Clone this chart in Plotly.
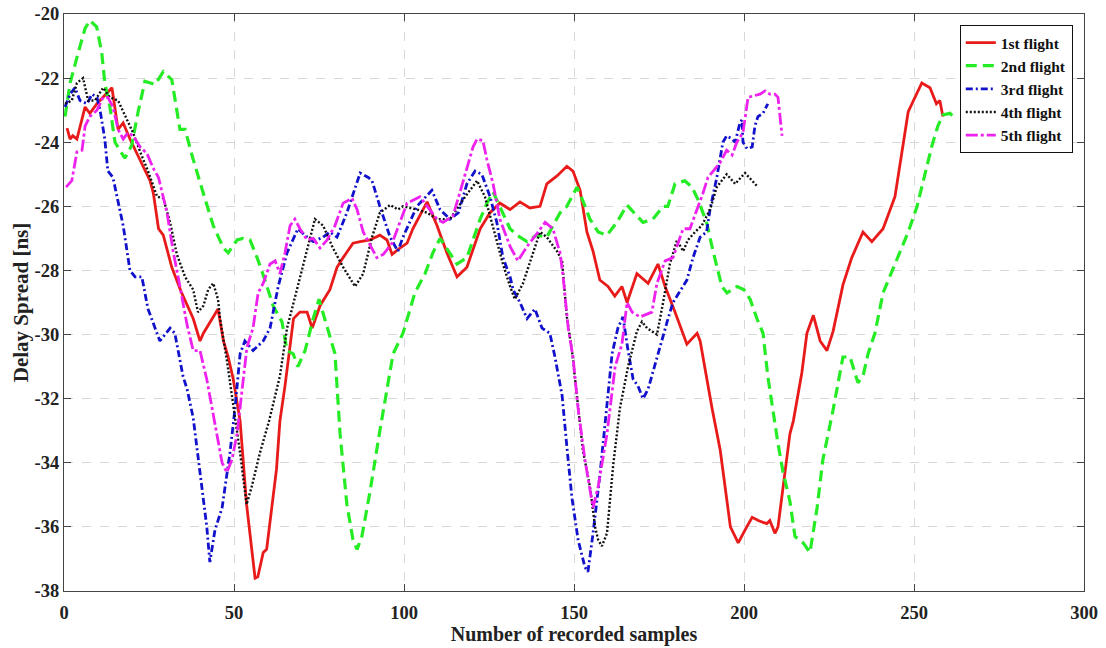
import plotly.graph_objects as go

# ---------------- data ----------------
red_x = [0.9, 1.8, 2.6, 3.8, 6.2, 7.6, 9.7, 11.5, 13.5, 14.1, 15.9, 17.4, 19.4, 22.4, 25.3, 26.3, 27.8, 29.2,
         31.7, 34.6, 38, 40, 41, 45.3, 46.9, 48.3, 49.8, 51.8, 53.7, 56.2, 57, 58.6, 59.6, 62.5, 63.5, 65, 67.5,
         69.4, 71.5, 73, 75.3, 78.2, 80.3, 82.1, 85, 87.1, 90, 92.9, 95, 96.5, 98.8, 100.9, 102.6, 106.8, 109.7,
         112.6, 115.6, 118.5, 122.4, 125.3, 128.2, 131.2, 134.1, 137, 140, 142, 145, 147.9, 149.7,
         151.8, 153.8, 155.6, 157.6, 160, 162, 164.1, 165.6, 168.5, 171.8, 174.7, 176.8, 179.7, 183.2, 186.2,
         187.1, 190.6, 193, 196, 198.3, 200.8, 202.4, 204.2, 206.7, 207.6, 209.1, 210, 211.5, 213.5, 214.5, 217,
         218.5, 220.4, 222.4, 224.4, 226.2, 229.1, 231.7, 235, 237.6, 240.9, 244.4, 246.8, 248.3, 252.3, 254.7,
         256.6, 257.6, 258.5]
red_y = [-23.56, -23.9, -23.8, -23.9, -22.9, -23.1, -22.8, -22.6, -22.4, -22.3, -23.6, -23.4, -23.9, -24.55,
         -25.2, -25.6, -26.7, -26.9, -27.9, -28.7, -29.5, -30.2, -29.96, -29.2, -30.2, -30.7, -31.4, -32.7, -35.3,
         -37.6, -37.56, -36.8, -36.7, -34.2, -32.7, -31.6, -29.5, -29.3, -29.3, -29.8, -29.1, -28.6, -27.9, -27.6,
         -27.15, -27.1, -27.05, -26.9, -27.05, -27.5, -27.3, -27.15, -26.7, -25.86, -26.6, -27.45, -28.2, -27.9,
         -26.7, -26.2, -25.9, -26.1, -25.86, -26.05, -26.0, -25.3, -25.05, -24.75, -24.9, -25.5, -26.8,
         -27.4, -28.3, -28.5, -28.8, -28.5, -29.0, -28.1, -28.4, -27.8, -28.5, -29.3, -30.3, -29.96, -30.2, -32.3,
         -33.6, -36.0, -36.5, -36.0, -35.7, -35.8, -35.9, -35.8, -36.2, -36.0, -34.8, -33.1, -32.7, -31.2, -29.96,
         -29.4, -30.2, -30.5, -29.9, -28.45, -27.6, -26.8, -27.1, -26.7, -25.7, -24.0, -23.05, -22.15, -22.3,
         -22.8, -22.7, -23.2]

green_x = [0.3, 1.8, 4.2, 6.2, 7.6, 9.6, 11.1, 12, 13.5, 15, 17.9, 19.9, 21.8, 23.8, 26.8, 29.2, 31.7, 34.1,
           35.6, 37.9, 41, 43.9, 46.9, 48.3, 50.9, 52.6, 54.7, 56.8, 59.1, 61.5, 64.1, 65.6, 67.4, 68.8, 70.9, 73.3,
           75, 77.5, 79.7, 81.2, 83.2, 85, 86.2, 87.6, 90, 92.9, 95.3, 96.8, 99.7, 103.2, 106.2, 108.5, 110.6,
           113, 115.6, 118.5, 122.4, 124.4, 126.2, 131.2, 133.2, 136.2, 139, 142, 145.9, 147.9, 150.9, 152.5,
           154.7, 157.1, 159.7, 162.6, 165.6, 168.5, 170.3, 173.2, 176.2, 177.6, 179.7, 182.6, 184.7, 186.5, 189,
           190.9, 193.5, 195, 198, 200, 201.8, 203.8, 205.6, 207, 208.5, 210, 211.5, 213.5, 215, 217.4, 219.4,
           221.5, 223.2, 226.2, 229.1, 231.2, 233.5, 235, 236.5, 238.5, 240.9, 244.4, 248.3, 250.9, 252.3, 255.3,
           257, 258.5, 260.6, 262]
green_y = [-23.2, -22.15, -21.2, -20.45, -20.2, -20.4, -21.2, -22.15, -22.9, -24.0, -24.5, -24.1, -23.05, -22.1,
           -22.2, -21.8, -22.05, -23.6, -23.6, -24.5, -25.6, -26.6, -27.3, -27.45, -27.05, -27.0, -27.05, -27.6,
           -28.3, -29.1, -29.6, -30.5, -30.6, -31.0, -30.5, -29.5, -28.9, -29.8, -30.6, -33.1, -35.3, -36.4, -36.7,
           -36.3, -34.9, -33.0, -31.5, -30.6, -29.96, -28.7, -28.1, -27.45, -27.0, -27.4, -27.8, -27.6, -26.4,
           -25.9, -25.55, -26.7, -26.9, -27.1, -26.9, -26.96, -26.2, -26.0, -25.4, -25.8, -26.4, -26.8, -26.9,
           -26.5, -25.96, -26.3, -26.5, -26.4, -26.0, -26.0, -25.3, -25.2, -25.4, -25.8, -26.5, -27.4, -28.5,
           -28.7, -28.5, -28.6, -28.9, -29.5, -29.96, -31.3, -32.4, -33.4, -34.3, -35.2, -36.3, -36.5, -36.8,
           -35.4, -33.9, -32.35, -30.7, -30.7, -31.5, -31.3, -30.6, -29.96, -28.7, -27.8, -26.8, -26.0, -25.4,
           -24.1, -23.5, -23.15, -23.1, -23.25]

blue_x = [0.3, 1.8, 3.2, 4.7, 6.8, 8.2, 9.7, 10.6, 12, 12.9, 14.4, 15.9, 17.4, 19.4, 20.9, 22.9, 24.7, 26.8,
          28.2, 31.2, 32.6, 35, 36.2, 38, 40, 42, 42.9, 44.4, 46.5, 48.8, 50.3, 51.8, 53.2, 55.6, 58.6, 60.6, 63,
          65.6, 68.8, 71.5, 73.3, 76.2, 78.2, 80.3, 83.2, 85.6, 87.1, 89.5, 90.6, 92.9, 95.9, 98.2, 99.7, 103.8,
          108.2, 110.6, 113.5, 116, 118.5, 120.9, 122.9, 125.3, 127.3, 129.1, 131.2, 132.1, 134.1, 136.2, 138.5,
          140.6, 142.9, 144.4, 146.5, 147.9, 149.4, 151.2, 153.2, 154.1, 155.6, 157.6, 159.7, 161.2, 162.9, 164.4,
          165.9, 167.4, 168.8, 170.3, 171.8, 174.4, 177.4, 179.1, 183.2, 185, 187.1, 189, 190, 192, 193.8, 194.9,
          196.5, 197.4, 198.8, 199.4, 199.7, 200.9, 202.4, 203.2, 204.1, 205.6, 207]
blue_y = [-22.9, -22.5, -22.3, -22.7, -22.8, -22.5, -22.6, -23.0, -23.9, -24.9, -25.1, -25.9, -26.6, -28.0,
          -28.2, -28.2, -29.2, -29.8, -30.2, -29.8, -29.96, -31.3, -31.7, -32.6, -34.3, -36.0, -37.1, -36.1, -35.4,
          -33.7, -32.3, -30.6, -30.2, -30.5, -30.2, -29.8, -28.5, -27.45, -26.7, -26.96, -27.1, -26.96, -26.8,
          -26.96, -26.2, -25.4, -24.96, -25.1, -25.2, -26.0, -26.96, -27.4, -26.96, -26.0, -25.5, -26.1, -26.4,
          -26.2, -25.3, -24.9, -25.0, -25.7, -26.5, -27.6, -28.2, -28.6, -29.0, -29.5, -29.2, -29.8, -29.96,
          -30.7, -31.9, -33.5, -35.1, -36.4, -37.25, -37.4, -36.2, -34.4, -32.3, -30.6, -29.8, -29.45, -30.5,
          -31.4, -31.6, -32.0, -31.7, -30.7, -29.6, -29.0, -28.3, -27.6, -26.96, -26.8, -26.1, -25.1, -24.0,
          -23.8, -23.9, -24.0, -23.4, -23.3, -24.0, -24.2, -24.15, -23.5, -23.2, -23.1, -22.8]

black_x = [0.3, 2.3, 3.8, 5.6, 7.1, 9.1, 11.5, 13.5, 15.9, 18.5, 20.3, 22.4, 24.7, 27.4, 29.2, 31.2, 33.2,
           35.6, 38, 39.4, 41, 42.4, 43.9, 45.3, 45.9, 47.9, 49.7, 51.8, 53.7, 55.2, 57.6, 60.3, 63.5, 65.6, 68.5,
           71.5, 73.8, 76.2, 79.1, 82.1, 85.6, 88, 90.6, 92.9, 95.9, 98.2, 99.7, 103.8, 106.8, 109.7, 113.5, 118,
           121.5, 123.8, 125.3, 127.3, 129.1, 131.2, 132.6, 135, 138, 140, 142, 145, 146.5, 147.9, 149.4, 150.9,
           152.6, 154.7, 156.2, 157.1, 158.2, 159.7, 161.5, 163.5, 165.9, 168.5, 170, 171.5, 172.9, 174.4, 176.2,
           178.2, 180.3, 182.1, 183.5, 185.6, 187.6, 190, 192, 194.9, 197.4, 200.3, 202.4, 204.1]
black_y = [-22.8, -22.7, -22.15, -22.0, -22.7, -22.7, -22.3, -22.6, -22.7, -23.3, -23.7, -24.3, -24.9, -25.7,
           -25.75, -26.5, -27.5, -28.2, -28.6, -29.3, -29.1, -28.6, -28.4, -28.9, -29.5, -30.8, -32.1, -33.7,
           -35.3, -34.75, -33.7, -32.7, -31.3, -29.8, -28.6, -27.3, -26.4, -26.6, -27.3, -27.9, -28.5, -28.1,
           -26.96, -26.2, -25.96, -26.1, -26.0, -26.1, -26.2, -26.4, -26.4, -25.7, -25.2, -25.7, -26.3, -27.05,
           -27.8, -28.5, -28.9, -28.4, -27.4, -26.8, -26.96, -27.4, -27.7, -29.45, -30.5, -32.0, -33.6, -34.75,
           -36.0, -36.4, -36.6, -36.2, -34.1, -32.3, -31.0, -29.9, -29.6, -29.8, -29.9, -30.0, -29.0, -27.8,
           -27.05, -27.4, -27.05, -26.8, -26.6, -26.1, -25.4, -25.0, -25.3, -24.96, -25.2, -25.4]

mag_x = [0.6, 2.3, 3.8, 5.3, 6.2, 7.6, 9.7, 11.5, 12.9, 14.4, 15.9, 17.4, 18.8, 20.3, 22.4, 24.4, 26.2, 27.8,
         30.3, 32.1, 34.1, 36.2, 38, 40, 42, 43.5, 45, 46.5, 47.9, 49.4, 50.9, 52.4, 53.8, 55.6, 57.1, 58.6, 60.6,
         62.1, 63.5, 65, 66.5, 67.9, 69.4, 71.5, 73.3, 75.3, 77.4, 79.7, 82.1, 84.7, 86.2, 88, 92, 93.9, 96.5,
         98.8, 100.9, 104.7, 109.7, 111.5, 114.4, 116.9, 118.5, 120.3, 121.5, 123.2, 124.4, 126.2, 128.2, 131.2,
         133.5, 136.2, 139.1, 141.5, 143.8, 145.9, 146.8, 148.3, 149.7, 151.2, 153.2, 155.6, 157.1, 159.7, 162.1,
         164.1, 165.6, 167.1, 169.4, 172.9, 174.4, 176.8, 179.1, 182.1, 184.1, 186.2, 187.9, 189.4, 190.9, 192.9,
         194.9, 196.5, 197.9, 199.7, 201.2, 203.2, 204.7, 206.2, 207.6, 209.1, 210, 211.2]
mag_y = [-25.4, -25.2, -24.3, -24.25, -23.5, -23.2, -23.0, -22.6, -22.6, -22.9, -23.6, -23.9, -23.7, -23.8,
         -24.15, -24.35, -24.8, -25.1, -26.2, -27.4, -28.5, -29.7, -30.5, -30.5, -31.4, -32.3, -33.1, -34.0,
         -34.3, -33.9, -33.1, -31.6, -30.4, -29.8, -28.7, -28.4, -27.8, -27.7, -28.1, -27.45, -26.6, -26.4,
         -26.7, -27.05, -27.0, -27.3, -27.05, -26.6, -25.9, -25.75, -26.1, -26.8, -27.6, -27.5, -27.15, -26.5,
         -25.9, -25.7, -26.4, -26.5, -26.3, -25.4, -24.8, -24.15, -23.9, -23.95, -24.55, -25.3, -26.4, -27.25,
         -27.7, -27.25, -26.85, -26.5, -26.7, -27.45, -28.2, -29.8, -30.7, -32.3, -33.9, -35.4, -34.75, -33.1,
         -31.0, -30.3, -29.0, -29.3, -29.45, -29.3, -28.4, -27.7, -27.6, -26.7, -26.7, -26.1, -25.6, -25.1,
         -24.9, -24.65, -24.25, -24.4, -24.0, -23.7, -22.6, -22.55, -22.5, -22.4, -22.5, -22.5, -22.6, -23.8]

series_names = ["1st flight", "2nd flight", "3rd flight", "4th flight", "5th flight"]
x_ticks = [0, 50, 100, 150, 200, 250, 300]
y_ticks = [-38, -36, -34, -32, -30, -28, -26, -24, -22, -20]

# ---------------- figure ----------------
FONT = "Liberation Serif"
styles = [
    dict(color="#e81a1a", width=2.8, dash="solid"),
    dict(color="#26ec26", width=3.2, dash="11px,6px"),
    dict(color="#1212cc", width=2.8, dash="7px,3px,2px,3px"),
    dict(color="#111111", width=2.4, dash="2px,2px"),
    dict(color="#ee22ee", width=2.8, dash="12px,3px,3px,3px"),
]
data = [(red_x, red_y), (green_x, green_y), (blue_x, blue_y), (black_x, black_y), (mag_x, mag_y)]

fig = go.Figure()
for (xs, ys), name, st in zip(data, series_names, styles):
    fig.add_trace(go.Scatter(x=xs, y=ys, mode="lines", name=name, line=st))

axis_common = dict(
    showline=True, linecolor="#444444", linewidth=1.2, mirror="ticks",
    ticks="inside", ticklen=7, tickcolor="#444444",
    showgrid=True, gridcolor="#d8d8d8", griddash="dash", gridwidth=1,
    zeroline=False, automargin=False,
    tickfont=dict(family=FONT, size=18.5, color="#222222", weight="bold"),
)

fig.update_layout(
    width=1106, height=648,
    margin=dict(l=64, r=22, t=14, b=57, autoexpand=False),
    paper_bgcolor="white", plot_bgcolor="white",
    font=dict(family=FONT, color="#222222"),
    showlegend=True,
    legend=dict(
        x=0.989, y=0.981, xanchor="right", yanchor="top",
        bgcolor="white", bordercolor="#111111", borderwidth=1,
        font=dict(family=FONT, size=15.5, color="#111111", weight="bold"),
        tracegroupgap=0, itemwidth=30,
    ),
    xaxis=dict(
        range=[0, 300], tickvals=x_ticks, ticktext=[str(v) for v in x_ticks],
        title=dict(text="Number of recorded samples", standoff=2,
                   font=dict(family=FONT, size=20, color="#222222", weight="bold")),
        ticklabelstandoff=5,
        **axis_common,
    ),
    yaxis=dict(
        range=[-38, -20], tickvals=y_ticks, ticktext=[str(v) for v in y_ticks],
        title=dict(text="Delay Spread [ns]", standoff=0,
                   font=dict(family=FONT, size=21, color="#222222", weight="bold")),
        ticklabelstandoff=0,
        **axis_common,
    ),
)

fig.write_html(
    "out.html",
    config={"displayModeBar": False},
    post_script="document.body.style.margin='0';document.body.style.padding='0';",
)
